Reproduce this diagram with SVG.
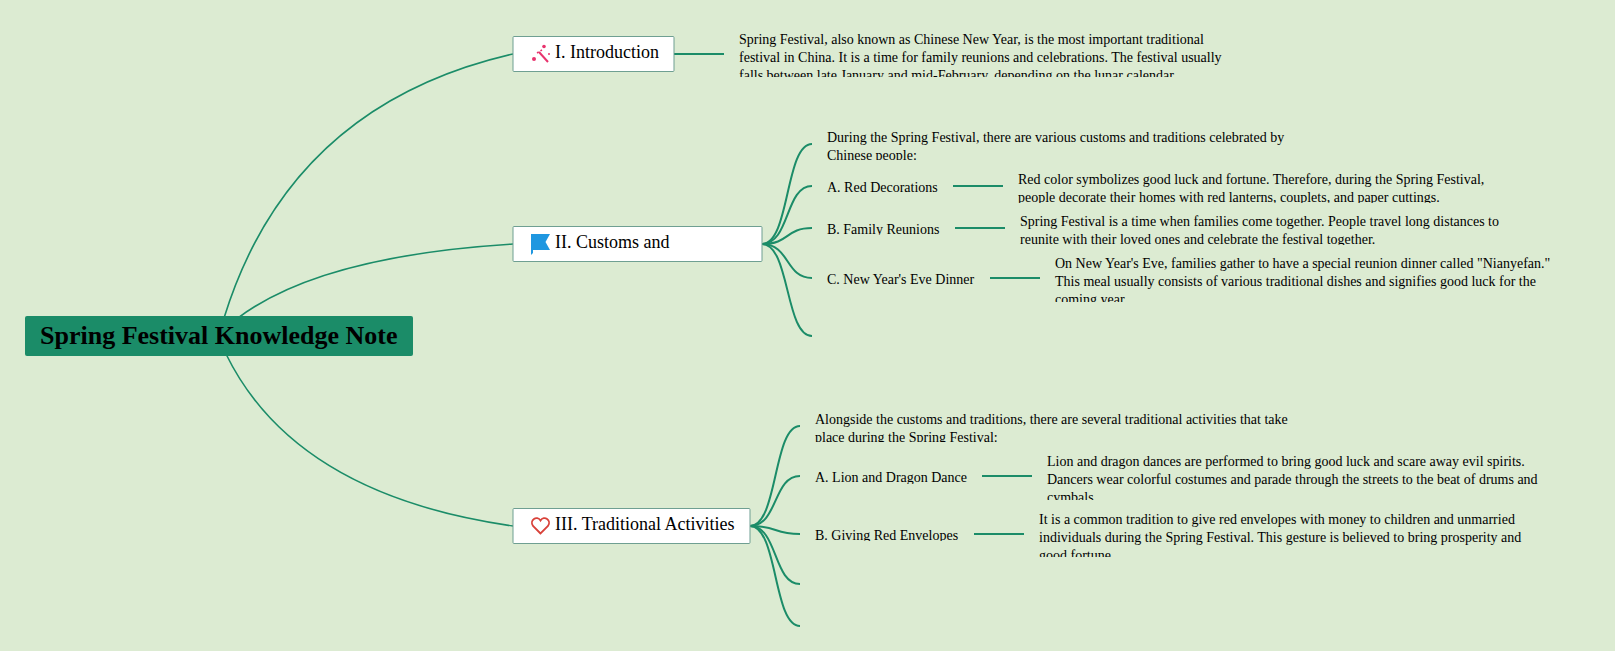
<svg xmlns="http://www.w3.org/2000/svg" width="1615" height="651" viewBox="0 0 1615 651">
<style>
text{font-family:"Liberation Serif","Times New Roman",serif;fill:#000}
.c{fill:none;stroke:#1b8c68;stroke-width:2}
.m{fill:none;stroke:#1b8c68;stroke-width:1.600}
.b{fill:#fff;stroke:#6f9f92;stroke-width:1}
.n{font-size:18px}
.t{font-size:14px}
</style>
<defs>
<clipPath id="c1"><rect x="735" y="28" width="500" height="49"/></clipPath>
<clipPath id="c2"><rect x="820" y="125" width="480" height="35"/></clipPath>
<clipPath id="c3"><rect x="820" y="175" width="130" height="19"/></clipPath>
<clipPath id="c4"><rect x="1015" y="168" width="490" height="35"/></clipPath>
<clipPath id="c5"><rect x="820" y="217" width="130" height="18"/></clipPath>
<clipPath id="c6"><rect x="1015" y="210" width="500" height="35"/></clipPath>
<clipPath id="c7"><rect x="820" y="266" width="170" height="22"/></clipPath>
<clipPath id="c8"><rect x="1050" y="252" width="510" height="50"/></clipPath>
<clipPath id="c9"><rect x="810" y="407" width="490" height="35"/></clipPath>
<clipPath id="c10"><rect x="810" y="465" width="170" height="19"/></clipPath>
<clipPath id="c11"><rect x="1043" y="450" width="510" height="50"/></clipPath>
<clipPath id="c12"><rect x="810" y="524" width="170" height="17"/></clipPath>
<clipPath id="c13"><rect x="1035" y="508" width="510" height="49"/></clipPath>
</defs>
<rect width="1615" height="651" fill="#dcebd2"/>
<g id="connectors">
<path class="m" d="M224 318Q290 105 513 54"/>
<path class="m" d="M238 318Q320 256 513 244"/>
<path class="m" d="M226 354Q295 495 513 526"/>
<path class="c" d="M674 54H724"/>
<path class="c" d="M762 244C790 244 785 144 812 144"/>
<path class="c" d="M762 244C790 244 785 186 812 186"/>
<path class="c" d="M762 244C790 244 785 228 812 228"/>
<path class="c" d="M762 244C790 244 785 278 812 278"/>
<path class="c" d="M762 244C790 244 785 336 812 336"/>
<path class="c" d="M953 186H1003"/>
<path class="c" d="M955 228H1005"/>
<path class="c" d="M990 278H1040"/>
<path class="c" d="M750 526C778 526 773 426 800 426"/>
<path class="c" d="M750 526C778 526 773 476 800 476"/>
<path class="c" d="M750 526C778 526 773 534 800 534"/>
<path class="c" d="M750 526C778 526 773 584 800 584"/>
<path class="c" d="M750 526C778 526 773 626 800 626"/>
<path class="c" d="M982 476H1032"/>
<path class="c" d="M974 534H1024"/>
</g>
<g id="root"><rect x="25" y="316" width="388" height="40" rx="2" fill="#1b8c68"/><text x="40" y="344" font-size="26" font-weight="700">Spring Festival Knowledge Note</text></g>
<g id="n1"><rect class="b" x="513" y="36.500" width="161" height="35" rx="1"/>
<g stroke="#e8336d" fill="#e8336d"><path d="M539 52L548 62" stroke-width="2" fill="none"/><circle cx="534" cy="59" r="2" stroke="none"/><circle cx="544" cy="46.500" r="1.800" stroke="none"/><circle cx="549" cy="54" r="1" stroke="none"/><path d="M537 53L542 50" stroke-width="1.500" fill="none" stroke-dasharray="2 2"/></g>
<text class="n" x="555" y="58">I. Introduction</text></g>
<g id="n1t" clip-path="url(#c1)"><text class="t" x="739" y="44">Spring Festival, also known as Chinese New Year, is the most important traditional</text><text class="t" x="739" y="62">festival in China. It is a time for family reunions and celebrations. The festival usually</text><text class="t" x="739" y="80">falls between late January and mid-February, depending on the lunar calendar.</text></g>
<g id="n2"><rect class="b" x="513" y="226.500" width="249" height="35" rx="1"/>
<path d="M531 234H550L545.500 242L550 250H533V253L531 255Z" fill="#1f97e0"/>
<text class="n" x="555" y="248">II. Customs and</text></g>
<g id="n2a" clip-path="url(#c2)"><text class="t" x="827" y="142">During the Spring Festival, there are various customs and traditions celebrated by</text><text class="t" x="827" y="160">Chinese people:</text></g>
<g id="n2b" clip-path="url(#c3)"><text class="t" x="827" y="192">A. Red Decorations</text></g>
<g id="n2bt" clip-path="url(#c4)"><text class="t" x="1018" y="184">Red color symbolizes good luck and fortune. Therefore, during the Spring Festival,</text><text class="t" x="1018" y="202">people decorate their homes with red lanterns, couplets, and paper cuttings.</text></g>
<g id="n2c" clip-path="url(#c5)"><text class="t" x="827" y="234">B. Family Reunions</text></g>
<g id="n2ct" clip-path="url(#c6)"><text class="t" x="1020" y="226">Spring Festival is a time when families come together. People travel long distances to</text><text class="t" x="1020" y="244">reunite with their loved ones and celebrate the festival together.</text></g>
<g id="n2d" clip-path="url(#c7)"><text class="t" x="827" y="284">C. New Year's Eve Dinner</text></g>
<g id="n2dt" clip-path="url(#c8)"><text class="t" x="1055" y="268">On New Year's Eve, families gather to have a special reunion dinner called "Nianyefan."</text><text class="t" x="1055" y="286">This meal usually consists of various traditional dishes and signifies good luck for the</text><text class="t" x="1055" y="304">coming year.</text></g>
<g id="n3"><rect class="b" x="513" y="508.500" width="237" height="35" rx="1"/>
<path d="M540.500 533.500L533 526C529 520 537 515 540.500 520.500C544 515 552 520 548 526Z" fill="none" stroke="#d9423a" stroke-width="1.800"/>
<text class="n" x="555" y="530">III. Traditional Activities</text></g>
<g id="n3a" clip-path="url(#c9)"><text class="t" x="815" y="424">Alongside the customs and traditions, there are several traditional activities that take</text><text class="t" x="815" y="442">place during the Spring Festival:</text></g>
<g id="n3b" clip-path="url(#c10)"><text class="t" x="815" y="482">A. Lion and Dragon Dance</text></g>
<g id="n3bt" clip-path="url(#c11)"><text class="t" x="1047" y="466">Lion and dragon dances are performed to bring good luck and scare away evil spirits.</text><text class="t" x="1047" y="484">Dancers wear colorful costumes and parade through the streets to the beat of drums and</text><text class="t" x="1047" y="502">cymbals.</text></g>
<g id="n3c" clip-path="url(#c12)"><text class="t" x="815" y="540">B. Giving Red Envelopes</text></g>
<g id="n3ct" clip-path="url(#c13)"><text class="t" x="1039" y="524">It is a common tradition to give red envelopes with money to children and unmarried</text><text class="t" x="1039" y="542">individuals during the Spring Festival. This gesture is believed to bring prosperity and</text><text class="t" x="1039" y="560">good fortune.</text></g>
</svg>
